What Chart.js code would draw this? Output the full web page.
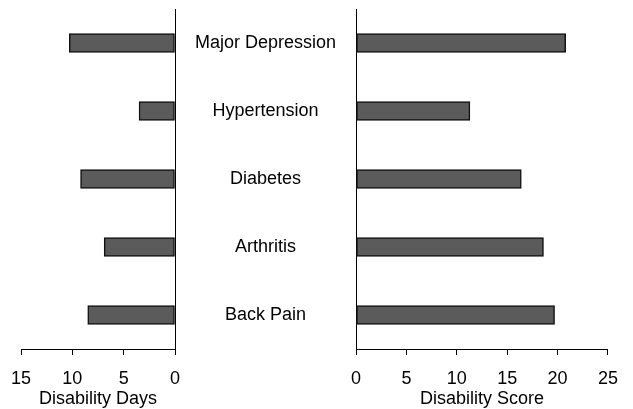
<!DOCTYPE html>
<html>
<head>
<meta charset="utf-8">
<script src="https://cdn.jsdelivr.net/npm/chart.js@4"></script>
<style>
  html, body { margin: 0; padding: 0; background: #fff; }
  #wrap { position: relative; width: 633px; height: 409px; }
  canvas { position: absolute; top: 0; }
</style>
</head>
<body>
<div id="wrap">
  <canvas id="leftChart" width="190" height="409" style="left:0px"></canvas>
  <canvas id="rightChart" width="458" height="409" style="left:175px"></canvas>
</div>
<script>
const conditions = ['Major Depression', 'Hypertension', 'Diabetes', 'Arthritis', 'Back Pain'];
const disabilityDays = [10.3, 3.5, 9.2, 6.9, 8.5];
const disabilityScore = [20.8, 11.3, 16.4, 18.6, 19.7];
const daysTicks = [0, 5, 10, 15];
const scoreTicks = [0, 5, 10, 15, 20, 25];

document.addEventListener("DOMContentLoaded", function () {
    Chart.defaults.font.family = "'Liberation Sans', Arial, sans-serif";
    Chart.defaults.font.size = 18;
    Chart.defaults.color = '#000';

    const barStyle = {
        backgroundColor: '#5b5b5b',
        borderColor: '#111',
        borderWidth: 1.5,
        borderSkipped: false,
        barThickness: 19
    };

    function xAxis(title, ticks, reverse) {
        return {
            type: 'linear',
            min: ticks[0],
            max: ticks[ticks.length - 1],
            reverse: reverse,
            afterBuildTicks: function (axis) {
                axis.ticks = ticks.map(v => ({ value: v }));
            },
            afterFit: function (axis) { axis.height = 60; },
            grid: { display: true, drawOnChartArea: false, drawTicks: true, tickLength: 6, color: '#000' },
            border: { display: true, color: '#000', width: 1 },
            ticks: { padding: 15, font: { lineHeight: 1 } },
            title: { display: true, text: title, padding: { top: 2, bottom: 1 }, font: { lineHeight: 1 } }
        };
    }

    // left panel, bars go leftward
    new Chart(document.getElementById('leftChart').getContext('2d'), {
        type: 'bar',
        data: {
            labels: conditions,
            datasets: [Object.assign({ data: disabilityDays }, barStyle)]
        },
        options: {
            indexAxis: 'y',
            responsive: false,
            animation: false,
            devicePixelRatio: 1,
            layout: { padding: { left: 21, right: 15, top: 9, bottom: 0 } },
            plugins: { legend: { display: false }, tooltip: { enabled: false } },
            scales: {
                x: xAxis('Disability Days', daysTicks, true),
                y: {
                    position: 'right',
                    offset: true,
                    grid: { display: false, drawTicks: false },
                    border: { display: true, color: '#000', width: 1 },
                    ticks: { display: false },
                    afterFit: function (axis) { axis.width = 0; axis.paddingTop = 0; axis.paddingBottom = 0; }
                }
            }
        }
    });

    // right panel, category names sit in the gap
    new Chart(document.getElementById('rightChart').getContext('2d'), {
        type: 'bar',
        data: {
            labels: conditions,
            datasets: [Object.assign({ data: disabilityScore }, barStyle)]
        },
        options: {
            indexAxis: 'y',
            responsive: false,
            animation: false,
            devicePixelRatio: 1,
            layout: { padding: { left: 0, right: 21, top: 9, bottom: 0 } },
            plugins: { legend: { display: false }, tooltip: { enabled: false } },
            scales: {
                x: xAxis('Disability Score', scoreTicks, false),
                y: {
                    position: 'left',
                    offset: true,
                    grid: { display: false, drawTicks: false },
                    border: { display: true, color: '#000', width: 1 },
                    ticks: { crossAlign: 'center', padding: 20 },
                    afterFit: function (axis) { axis.width = 181; axis.paddingTop = 0; axis.paddingBottom = 0; }
                }
            }
        }
    });
});
</script>
</body>
</html>
